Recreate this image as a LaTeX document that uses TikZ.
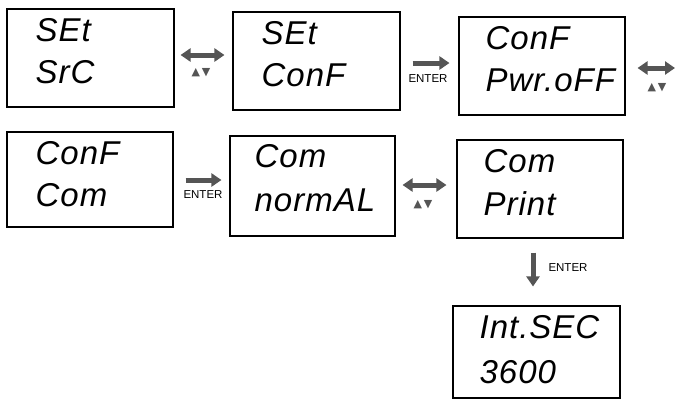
\documentclass[tikz,border=0pt]{standalone}
\usepackage{fontspec}
\setmainfont{Liberation Sans}
\newfontfamily\symfont{DejaVu Sans}
\newfontfamily\segfont{Liberation Sans Italic}[LetterSpace=3]
\usetikzlibrary{arrows.meta}
\definecolor{arrowgray}{HTML}{555555}
\begin{document}
\begin{tikzpicture}[x=1pt,y=-1pt,
  box/.style={draw, line width=1.1pt, rectangle, inner sep=0pt},
  disp/.style={font=\segfont\fontsize{33}{38}\selectfont, anchor=base west, inner sep=0pt},
  dbl/.style={draw=arrowgray, line width=5pt,
    {Triangle[length=10pt,width=13pt]}-{Triangle[length=10pt,width=13pt]}},
  one/.style={draw=arrowgray, line width=5pt, -{Triangle[length=10pt,width=13pt]}},
  keys/.style={font=\symfont\fontsize{11}{11}\selectfont, text=arrowgray, inner sep=0pt},
  enter/.style={font=\fontsize{11.5}{12}\selectfont, inner sep=0pt}
]
\useasboundingbox[fill=white] (0,0) rectangle (676,402);

% boxes
\node[box, minimum width=167pt, minimum height=98pt] (b1) at (90.5,58) {};
\node[box, minimum width=167pt, minimum height=98pt] (b2) at (316.5,61) {};
\node[box, minimum width=166pt, minimum height=98pt] (b3) at (542,66) {};
\node[box, minimum width=166pt, minimum height=95pt] (b4) at (90,179.5) {};
\node[box, minimum width=165pt, minimum height=100pt] (b5) at (312.5,186) {};
\node[box, minimum width=166pt, minimum height=98pt] (b6) at (540,189) {};
\node[box, minimum width=167pt, minimum height=92pt] (b7) at (536.5,352) {};

% display texts
\node[disp] (t1a) at ([shift={(29,33)}]b1.north west) {SEt};
\node[disp] (t1b) at ([shift={(29,75)}]b1.north west) {SrC};
\node[disp] (t2a) at ([shift={(29,33)}]b2.north west) {SEt};
\node[disp] (t2b) at ([shift={(29,75)}]b2.north west) {ConF};
\node[disp] (t3a) at ([shift={(27,33)}]b3.north west) {ConF};
\node[disp] (t3b) at ([shift={(27,75)}]b3.north west) {Pwr.oFF};
\node[disp] (t4a) at ([shift={(29,33)}]b4.north west) {ConF};
\node[disp] (t4b) at ([shift={(29,75)}]b4.north west) {Com};
\node[disp] (t5a) at ([shift={(25,32)}]b5.north west) {Com};
\node[disp] (t5b) at ([shift={(25,76)}]b5.north west) {normAL};
\node[disp] (t6a) at ([shift={(27,33)}]b6.north west) {Com};
\node[disp] (t6b) at ([shift={(27,76)}]b6.north west) {Print};
\node[disp] (t7a) at ([shift={(27,33)}]b7.north west) {Int.SEC};
\node[disp] (t7b) at ([shift={(27,78)}]b7.north west) {3600};

% connectors
\coordinate (r3) at (675,68);
\draw[dbl, shorten <=6pt, shorten >=8pt] (b1.east |- 0,55) -- (b2.west |- 0,55);
\draw[one, shorten <=12pt, shorten >=9pt] (b2.east |- 0,63) -- (b3.west |- 0,63);
\draw[dbl, shorten <=12pt] (b3.east |- r3) -- (r3);
\draw[one, shorten <=12pt, shorten >=8pt] (b4.east |- 0,180) -- (b5.west |- 0,180);
\draw[dbl, shorten <=7pt, shorten >=10pt] (b5.east |- 0,185) -- (b6.west |- 0,185);
\draw[one, shorten <=14pt, shorten >=19pt] (b6.south -| 533,0) -- (b7.north -| 533,0);

% key labels
\node[keys] (k1) at (201,73) {▲\,▼};
\node[keys] (k2) at (657,88) {▲\,▼};
\node[keys] (k3) at (423,205) {▲\,▼};
\node[enter] (e1) at (428,79) {ENTER};
\node[enter] (e2) at (203,195) {ENTER};
\node[enter] (e3) at (568,268) {ENTER};
\end{tikzpicture}
\end{document}
